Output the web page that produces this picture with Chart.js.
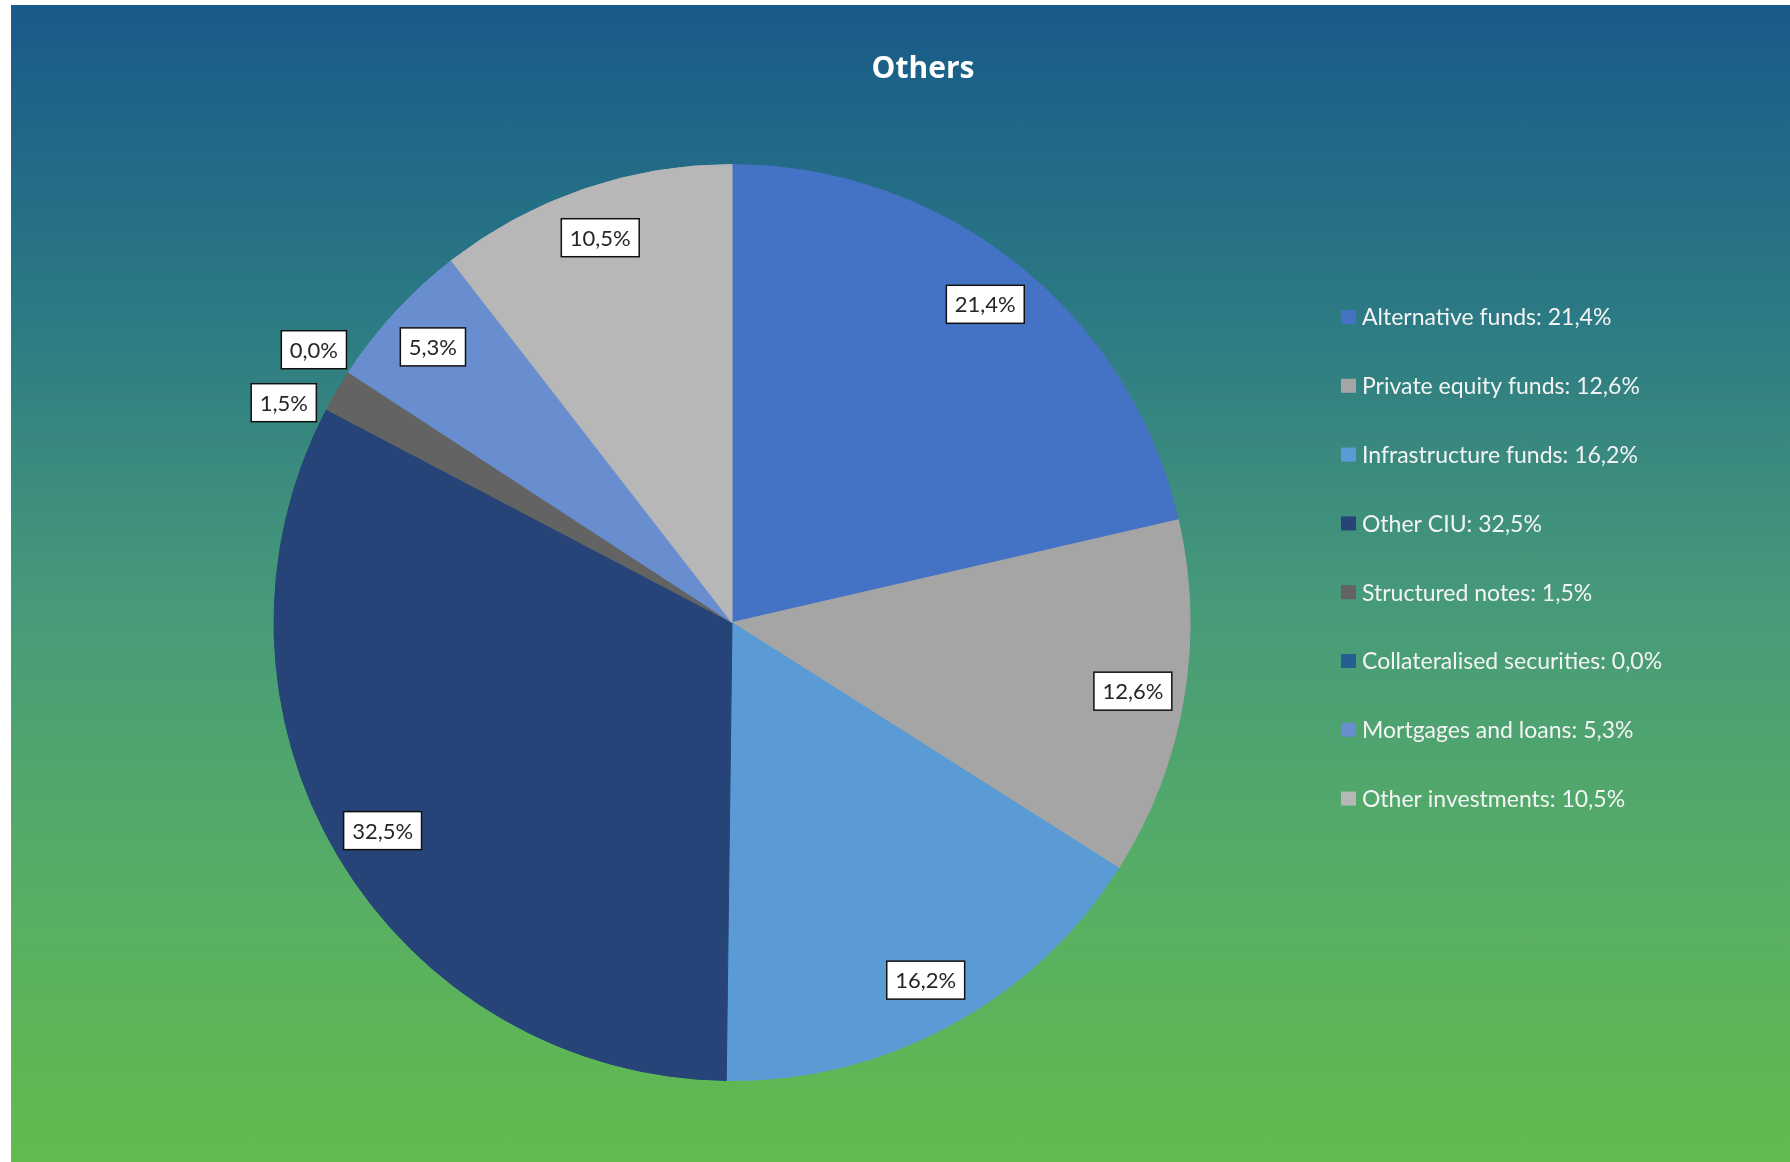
<!DOCTYPE html>
<html lang="en">
<head>
    <meta charset="UTF-8">
    <title>Others</title>
    <script src="https://cdn.jsdelivr.net/npm/chart.js"></script>
    <style>
        html, body {
            margin: 0;
            padding: 0;
            background: #fff;
            overflow: hidden;
        }
        #wrap {
            position: absolute;
            left: 11px;
            top: 5px;
            width: 1779px;
            height: 1157px;
            background: linear-gradient(to bottom, #185a89 0%, #2c7a84 27%, #479a79 52%, #56ae65 76%, #62bb4d 100%);
        }
    </style>
</head>
<body>

<div id="wrap">
    <canvas id="pieChart"></canvas>
</div>

<script>
    // data
    const categories = ['Alternative funds', 'Private equity funds', 'Infrastructure funds', 'Other CIU',
        'Structured notes', 'Collateralised securities', 'Mortgages and loans', 'Other investments'];
    const shares = [21.4, 12.6, 16.2, 32.5, 1.5, 0.0, 5.3, 10.5];
    const sliceColors = ['#4472c4', '#a5a5a5', '#5b9bd5', '#264478', '#636363', '#255e91', '#698ed0', '#b7b7b7'];
    const chartTitle = 'Others';

    const fmt = v => v.toFixed(1).replace('.', ',') + '%';
    const FONT = 'Lato, "Open Sans", sans-serif';

    // title, legend and boxed value labels
    const decorations = {
        id: 'decorations',
        afterDatasetsDraw(chart) {
            const ctx = chart.ctx;
            const meta = chart.getDatasetMeta(0);

            ctx.save();
            // title
            ctx.fillStyle = '#ffffff';
            ctx.font = 'bold 30px "Open Sans", sans-serif';
            ctx.textAlign = 'center';
            ctx.textBaseline = 'alphabetic';
            ctx.fillText(chartTitle, 912, 73);

            // legend
            ctx.font = '23px ' + FONT;
            ctx.textAlign = 'left';
            ctx.textBaseline = 'middle';
            categories.forEach((c, i) => {
                const y = 312 + i * 68.8;
                ctx.fillStyle = sliceColors[i];
                ctx.fillRect(1330, y - 7, 15, 14);
                ctx.fillStyle = '#f4f4f4';
                ctx.fillText(c + ': ' + fmt(shares[i]), 1351, y + 1);
            });

            // value labels
            ctx.font = '22px ' + FONT;
            ctx.textAlign = 'center';
            const h = 38;
            const placed = [];
            for (let i = meta.data.length - 1; i >= 0; i--) {
                const p = meta.data[i].getProps(['x', 'y', 'startAngle', 'endAngle', 'outerRadius'], true);
                const small = shares[i] < 2;
                const r = p.outerRadius * (small ? 1.09 : 0.888);
                const text = fmt(shares[i]);
                const w = ctx.measureText(text).width + 17;
                let a = (p.startAngle + p.endAngle) / 2;
                let cx = p.x + Math.cos(a) * r;
                let cy = p.y + Math.sin(a) * r;
                if (small) {
                    // slide along the ring until the box clears the ones already placed
                    const hit = () => placed.some(b => Math.abs(b.x - cx) < (b.w + w) / 2 && Math.abs(b.y - cy) < h + 14);
                    while (hit()) {
                        a -= 0.005;
                        cx = p.x + Math.cos(a) * r;
                        cy = p.y + Math.sin(a) * r;
                    }
                    placed.push({x: cx, y: cy, w: w});
                }
                ctx.fillStyle = '#ffffff';
                ctx.fillRect(cx - w / 2, cy - h / 2, w, h);
                ctx.strokeStyle = '#111111';
                ctx.lineWidth = 1.5;
                ctx.strokeRect(cx - w / 2, cy - h / 2, w, h);
                ctx.fillStyle = '#262626';
                ctx.fillText(text, cx, cy + 1);
            }
            ctx.restore();
        }
    };

    new Chart(document.getElementById('pieChart'), {
        type: 'pie',
        data: {
            labels: categories,
            datasets: [{
                data: shares,
                backgroundColor: sliceColors,
                borderColor: sliceColors,
                borderWidth: 1,
                hoverOffset: 0,
                radius: 458
            }]
        },
        options: {
            responsive: true,
            maintainAspectRatio: false,
            animation: false,
            layout: {
                padding: {left: 262, right: 599, top: 159, bottom: 81}
            },
            plugins: {
                legend: {display: false},
                title: {display: false},
                tooltip: {enabled: false}
            }
        },
        plugins: [decorations]
    });
</script>

</body>
</html>
